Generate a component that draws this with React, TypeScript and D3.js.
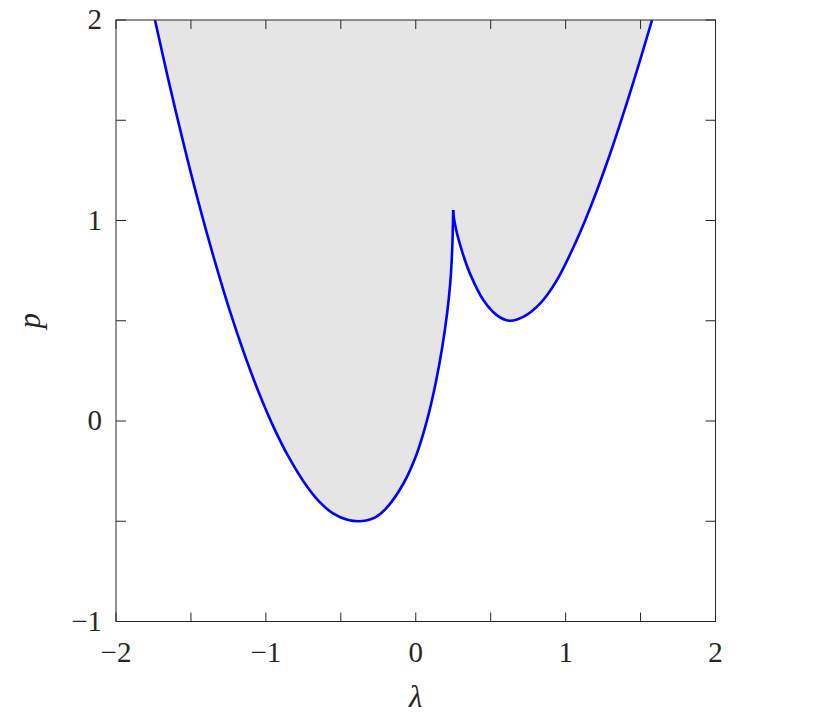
import React from "react";
import * as d3 from "d3";

// Left branch of the boundary (from top-left down to the minimum and up to the cusp)
const leftLambda = [-1.740, -1.650, -1.550, -1.450, -1.350, -1.250, -1.150, -1.050, -0.950, -0.850, -0.750, -0.650, -0.550, -0.450, -0.383, -0.330, -0.270, -0.193, -0.083, 0.007, 0.075, 0.132, 0.177, 0.209, 0.230, 0.243, 0.250];
const leftP = [2.000, 1.700, 1.386, 1.092, 0.821, 0.572, 0.348, 0.147, -0.028, -0.177, -0.300, -0.397, -0.462, -0.494, -0.500, -0.496, -0.481, -0.432, -0.313, -0.163, 0.003, 0.186, 0.369, 0.536, 0.686, 0.852, 1.052];

// Right branch (from the cusp down to the second minimum and up to the top)
const rightLambda = [0.250, 0.253, 0.270, 0.287, 0.315, 0.362, 0.451, 0.540, 0.625, 0.717, 0.829, 0.940, 1.073, 1.184, 1.295, 1.407, 1.495, 1.577];
const rightP = [1.052, 1.022, 0.952, 0.902, 0.832, 0.735, 0.603, 0.528, 0.500, 0.519, 0.585, 0.700, 0.901, 1.101, 1.329, 1.583, 1.795, 2.000];

const xTicks = [-2, -1.5, -1, -0.5, 0, 0.5, 1, 1.5, 2];
const yTicks = [-1, -0.5, 0, 0.5, 1, 1.5, 2];
const xLabels = [-2, -1, 0, 1, 2];
const yLabels = [-1, 0, 1, 2];

const W = 817;
const H = 721;
const L = 116, R = 715.5, T = 20, B = 621.5;

const fmt = (v: number) => (v < 0 ? "\u2212" + Math.abs(v) : String(v));

export default function App() {
  const x = d3.scaleLinear().domain([-2, 2]).range([L, R]);
  const y = d3.scaleLinear().domain([-1, 2]).range([B, T]);

  const leftPts: [number, number][] = leftLambda.map((l, i) => [l, leftP[i]]);
  const rightPts: [number, number][] = rightLambda.map((l, i) => [l, rightP[i]]);

  const line = d3
    .line<[number, number]>()
    .x((d) => x(d[0]))
    .y((d) => y(d[1]))
    .curve(d3.curveCatmullRom.alpha(0.5));

  const leftPath = line(leftPts) || "";
  const rightPath = line(rightPts) || "";
  const fillPath = leftPath + rightPath.replace(/^M/, "L") + "Z";

  const axisColor = "#262626";
  const font = "'Liberation Serif', 'DejaVu Serif', 'Times New Roman', serif";

  return (
    <svg
      width={W}
      height={H}
      style={{ position: "absolute", left: 0, top: 0, background: "#fff" }}
    >
      <defs>
        <clipPath id="plotclip">
          <rect x={L} y={T} width={R - L} height={B - T} />
        </clipPath>
      </defs>
      <g clipPath="url(#plotclip)">
        <path d={fillPath} fill="#e5e5e5" stroke="none" />
        <path d={leftPath} fill="none" stroke="#0000ff" strokeWidth={2.6} strokeLinejoin="round" />
        <path d={rightPath} fill="none" stroke="#0000ff" strokeWidth={2.6} strokeLinejoin="round" />
      </g>

      {/* box */}
      <rect x={L} y={T} width={R - L} height={B - T} fill="none" stroke={axisColor} strokeWidth={1} />

      {/* x ticks (bottom and top) */}
      {xTicks.map((t) => (
        <g key={"xt" + t}>
          <line x1={x(t)} x2={x(t)} y1={B} y2={B - 9} stroke={axisColor} strokeWidth={1} />
          <line x1={x(t)} x2={x(t)} y1={T} y2={T + 9} stroke={axisColor} strokeWidth={1} />
        </g>
      ))}
      {/* y ticks (left and right) */}
      {yTicks.map((t) => (
        <g key={"yt" + t}>
          <line x1={L} x2={L + 10} y1={y(t)} y2={y(t)} stroke={axisColor} strokeWidth={1} />
          <line x1={R} x2={R - 10} y1={y(t)} y2={y(t)} stroke={axisColor} strokeWidth={1} />
        </g>
      ))}

      {/* tick labels */}
      {xLabels.map((t) => (
        <text
          key={"xl" + t}
          x={x(t)}
          y={B + 40}
          textAnchor="middle"
          fontFamily={font}
          fontSize={29}
          fill="#262626"
        >
          {fmt(t)}
        </text>
      ))}
      {yLabels.map((t) => (
        <text
          key={"yl" + t}
          x={102}
          y={y(t) + 9}
          textAnchor="end"
          fontFamily={font}
          fontSize={29}
          fill="#262626"
        >
          {fmt(t)}
        </text>
      ))}

      {/* axis labels */}
      <text
        x={x(0)}
        y={707}
        textAnchor="middle"
        fontFamily={font}
        fontStyle="italic"
        fontSize={31}
        fill="#262626"
      >
        λ
      </text>
      <text
        transform={`translate(40,${y(0.5)}) rotate(-90)`}
        textAnchor="middle"
        fontFamily={font}
        fontStyle="italic"
        fontSize={31}
        fill="#262626"
      >
        p
      </text>
    </svg>
  );
}
